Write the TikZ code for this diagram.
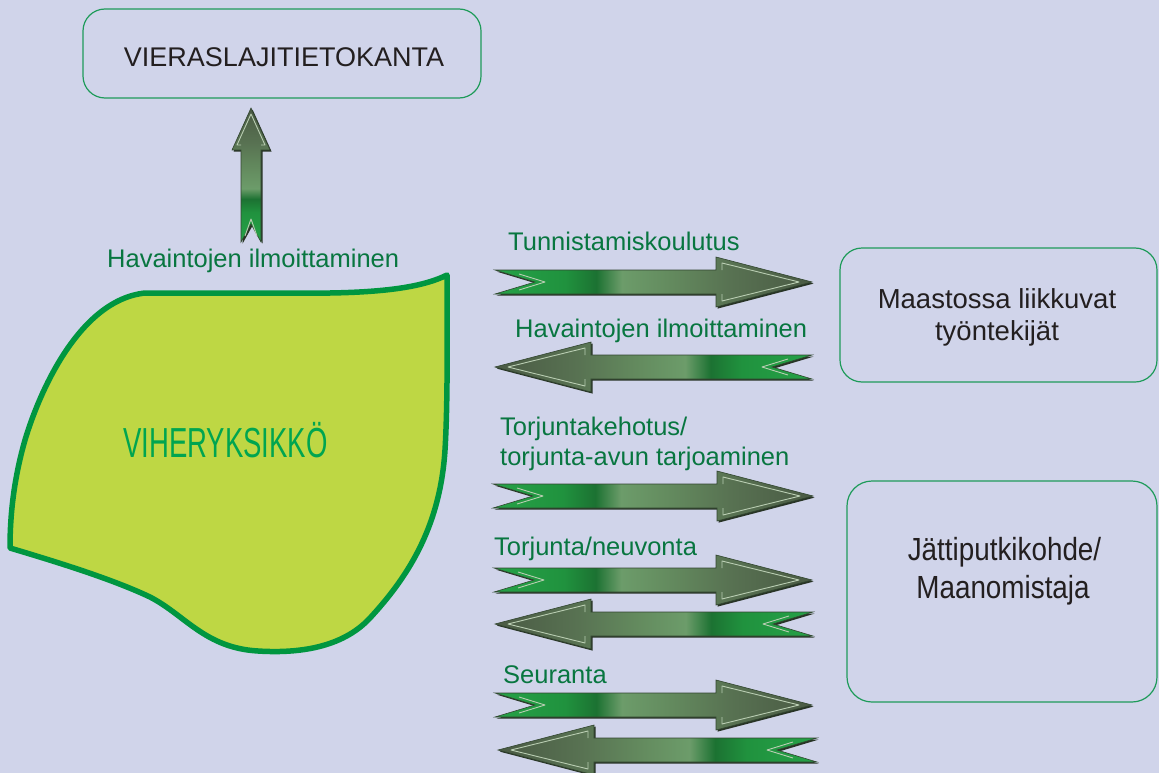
\documentclass[tikz,border=0pt]{standalone}
\usepackage{fontspec}
\setmainfont{Liberation Sans}
\newfontfamily\narrowA[FakeStretch=0.655]{Liberation Sans}
\newfontfamily\narrowB[FakeStretch=0.87]{Liberation Sans}
\definecolor{bg}{RGB}{208,212,234}
\definecolor{lbl}{RGB}{8,118,64}
\definecolor{boxline}{RGB}{30,155,90}
\definecolor{boxtext}{RGB}{35,31,32}
\definecolor{blobfill}{RGB}{190,215,68}
\definecolor{blobline}{RGB}{0,150,64}
\definecolor{vtext}{RGB}{0,165,80}
\definecolor{s0}{RGB}{38,162,72}
\definecolor{s1}{RGB}{32,146,62}
\definecolor{s2}{RGB}{28,114,50}
\definecolor{s3}{RGB}{108,156,106}
\definecolor{s4}{RGB}{100,140,95}
\definecolor{s5}{RGB}{88,114,82}
\definecolor{s6}{RGB}{74,90,68}
\definecolor{arrdark}{RGB}{40,52,38}
\definecolor{arrline}{RGB}{50,70,48}
\definecolor{hlcol}{RGB}{185,205,178}
\pgfdeclarehorizontalshading{rshade}{100bp}{color(0bp)=(s0); color(25bp)=(s0); color(36bp)=(s1); color(41bp)=(s2); color(45bp)=(s3); color(52bp)=(s4); color(62bp)=(s5); color(75bp)=(s6); color(100bp)=(s6)}
\pgfdeclarehorizontalshading{lshade}{100bp}{color(0bp)=(s6); color(25bp)=(s6); color(38bp)=(s5); color(48bp)=(s4); color(55bp)=(s3); color(59bp)=(s2); color(64bp)=(s1); color(75bp)=(s0); color(100bp)=(s0)}
\pgfdeclareverticalshading{ushade}{100bp}{color(0bp)=(s0); color(25bp)=(s0); color(36bp)=(s1); color(41bp)=(s2); color(45bp)=(s3); color(52bp)=(s4); color(62bp)=(s5); color(75bp)=(s6); color(100bp)=(s6)}
\tikzset{
  box/.style={draw=boxline, line width=1.2pt, rounded corners=22pt, inner sep=0pt},
  boxtxt/.style={text=boxtext, inner sep=0pt, anchor=base, font=\fontsize{27.5}{32}\selectfont},
  lab/.style={text=lbl, inner sep=0pt, anchor=base west, font=\fontsize{25.5}{30}\selectfont},
  hl/.style={draw=hlcol, line width=0.9pt, line join=round},
  blob/.style={draw=blobline, fill=blobfill, line width=5.5pt, line join=round},
}
\newcommand\myrarrow[3]{%
  \fill[arrdark, shift={(1.6,1.6)}] (#1,#3-12) -- (#2-96,#3-12) -- (#2-96,#3-25) -- (#2,#3) -- (#2-96,#3+25) -- (#2-96,#3+12) -- (#1,#3+12) -- (#1+40,#3) -- cycle;
  \path[shading=rshade, draw=arrline, line width=0.6pt] (#1,#3-12) -- (#2-96,#3-12) -- (#2-96,#3-25) -- (#2,#3) -- (#2-96,#3+25) -- (#2-96,#3+12) -- (#1,#3+12) -- (#1+40,#3) -- cycle;
  \draw[hl] (#2-90,#3-12) -- (#2-90,#3-19) -- (#2-13,#3) -- (#2-90,#3+19) -- (#2-90,#3+12);
  \draw[hl] (#1+24,#3-8) -- (#1+50,#3) -- (#1+24,#3+8);
}
\newcommand\mylarrow[3]{%
  \fill[arrdark, shift={(1.6,1.6)}] (#1,#3) -- (#1+96,#3-25) -- (#1+96,#3-12) -- (#2,#3-12) -- (#2-40,#3) -- (#2,#3+12) -- (#1+96,#3+12) -- (#1+96,#3+25) -- cycle;
  \path[shading=lshade, draw=arrline, line width=0.6pt] (#1,#3) -- (#1+96,#3-25) -- (#1+96,#3-12) -- (#2,#3-12) -- (#2-40,#3) -- (#2,#3+12) -- (#1+96,#3+12) -- (#1+96,#3+25) -- cycle;
  \draw[hl] (#1+90,#3-12) -- (#1+90,#3-19) -- (#1+13,#3) -- (#1+90,#3+19) -- (#1+90,#3+12);
  \draw[hl] (#2-24,#3-8) -- (#2-50,#3) -- (#2-24,#3+8);
}
\begin{document}
\begin{tikzpicture}[x=1pt, y=-1pt]
\useasboundingbox (0,0) rectangle (1159,773);
\fill[bg] (0,0) rectangle (1159,773);

% boxes
\node[box, minimum width=398pt, minimum height=89pt] (viera) at (282,53.5) {};
\node[boxtxt, font=\fontsize{27}{32}\selectfont] (vieratxt) at (284,67) {VIERASLAJITIETOKANTA};
\node[box, minimum width=317pt, minimum height=134pt] (maasto) at (998.5,315) {};
\node[boxtxt] (maasto1) at (997,308) {Maastossa liikkuvat};
\node[boxtxt] (maasto2) at (997,340) {työntekijät};
\node[box, rounded corners=25pt, minimum width=310pt, minimum height=221pt] (jatti) at (1002,591.5) {};
\node[boxtxt, font=\narrowB\fontsize{32}{38}\selectfont] (jatti1) at (1004.5,560) {Jättiputkikohde/};
\node[boxtxt, font=\narrowB\fontsize{32}{38}\selectfont] (jatti2) at (1003,598) {Maanomistaja};

% blob
\draw[blob] (447,275) .. controls (425,286) and (390,292) .. (330,293)
  -- (145,293) .. controls (80,300) and (40,390) .. (25,440)
  .. controls (15,475) and (10,510) .. (10,548)
  .. controls (50,560) and (110,578) .. (150,597)
  .. controls (185,615) and (205,648) .. (258,651)
  .. controls (305,654) and (345,645) .. (370,618)
  .. controls (405,580) and (440,530) .. (445,450)
  .. controls (448,400) and (447,330) .. (447,275) -- cycle;
\node[text=vtext, inner sep=0pt, anchor=base west, font=\narrowA\fontsize{42}{48}\selectfont] (viher) at (123,457) {VIHERYKSIKKÖ};

% vertical arrow
\fill[arrdark, shift={(1.6,1.6)}] (251,108) -- (270,150) -- (261,150) -- (261,242) -- (251,224) -- (241,242) -- (241,150) -- (232,150) -- cycle;
\path[shading=ushade, draw=arrline, line width=0.6pt] (251,108) -- (270,150) -- (261,150) -- (261,242) -- (251,224) -- (241,242) -- (241,150) -- (232,150) -- cycle;
\draw[hl] (241,145) -- (237,145) -- (251,114) -- (265,145) -- (261,145);
\draw[hl] (245,236) -- (251,219) -- (257,236);

% horizontal arrows
\myrarrow{495}{812}{282}
\mylarrow{495}{812}{367}
\myrarrow{493}{813}{496}
\myrarrow{494}{812}{580}
\mylarrow{495}{813}{624}
\myrarrow{495}{812}{705}
\mylarrow{498}{817}{750}

% labels
\node[lab] (l1) at (107,267) {Havaintojen ilmoittaminen};
\node[lab] (l2) at (508,250) {Tunnistamiskoulutus};
\node[lab] (l3) at (515,337) {Havaintojen ilmoittaminen};
\node[lab] (l4) at (500,435) {Torjuntakehotus/};
\node[lab] (l5) at (500,465) {torjunta-avun tarjoaminen};
\node[lab] (l6) at (494,555) {Torjunta/neuvonta};
\node[lab] (l7) at (503,683) {Seuranta};
\end{tikzpicture}
\end{document}
